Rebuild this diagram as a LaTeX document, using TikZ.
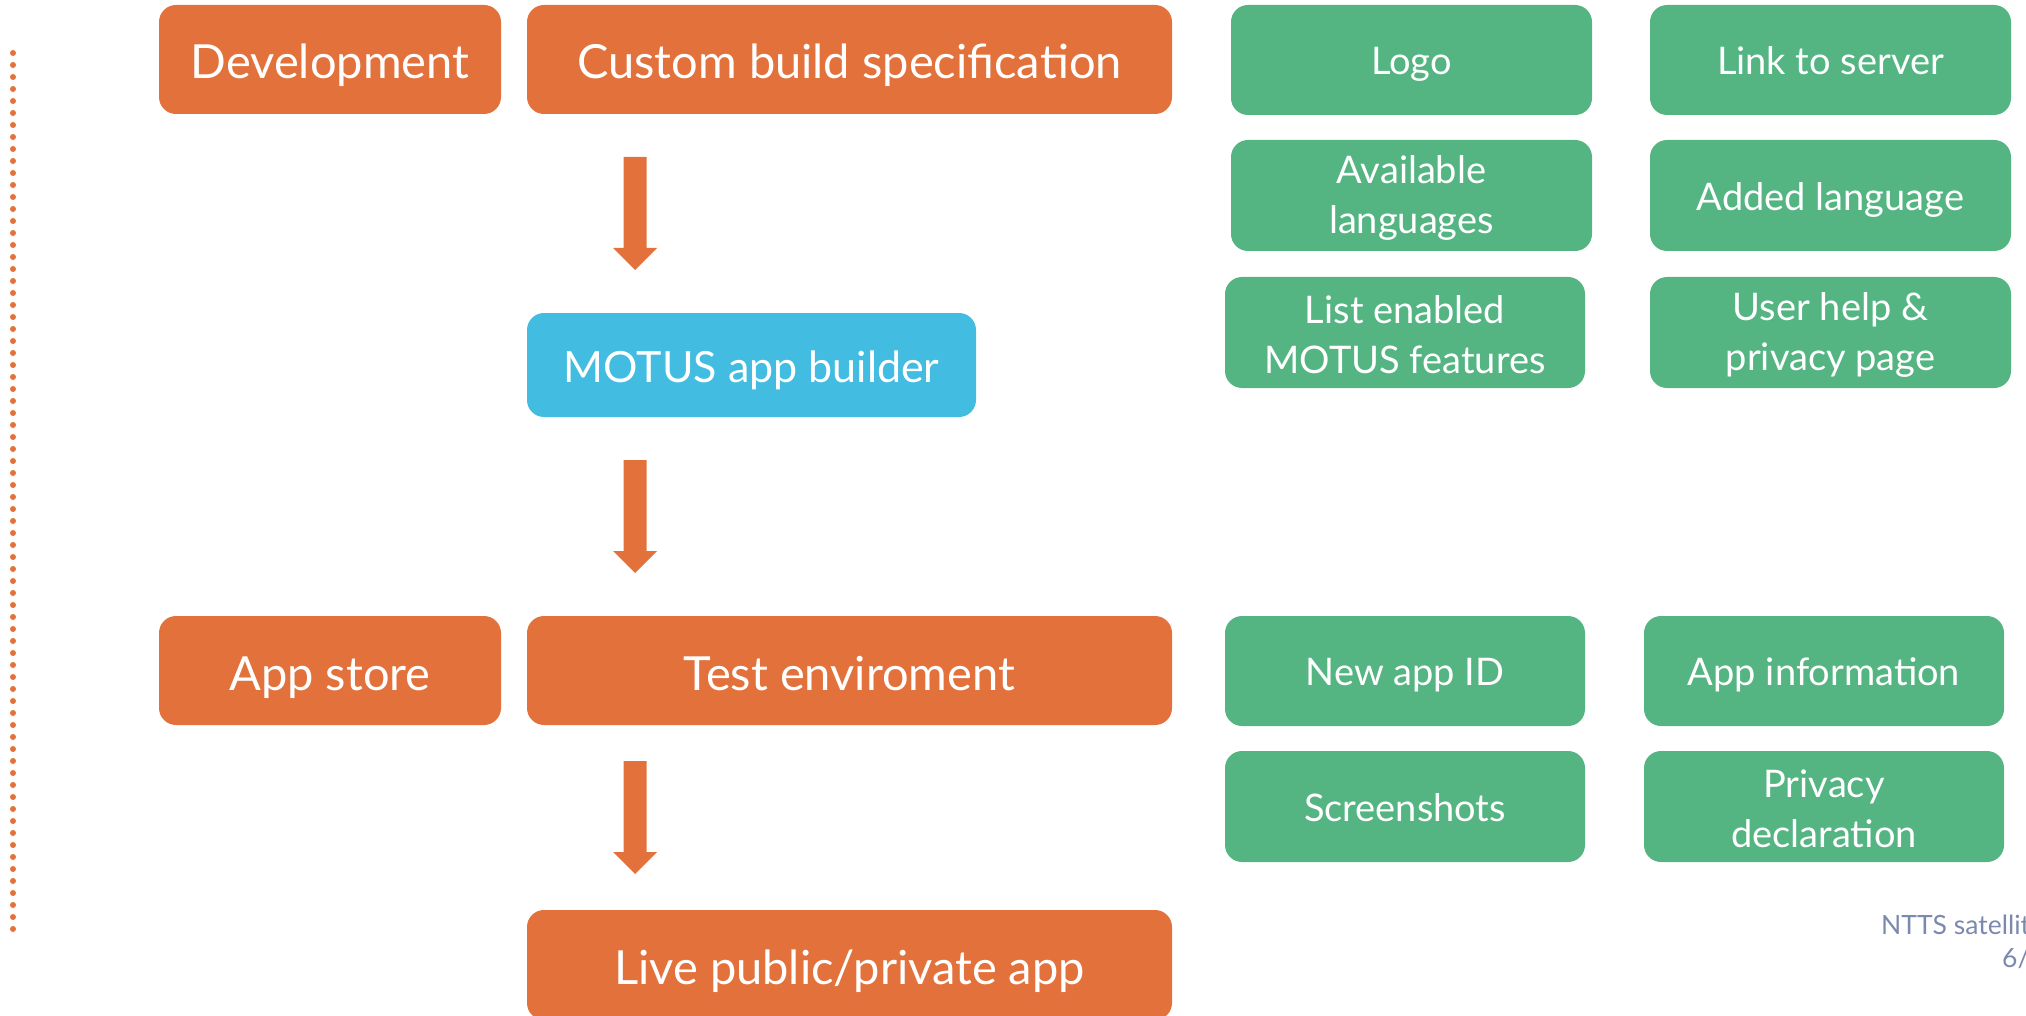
\documentclass[tikz,border=0pt]{standalone}
\usepackage{fontspec}
\setmainfont{Lato}
\definecolor{orng}{HTML}{E3713B}
\definecolor{grn}{HTML}{54B583}
\definecolor{blu}{HTML}{42BCE1}
\definecolor{foot}{HTML}{7A89AD}
\newcommand{\topstrut}{\rule{0pt}{33pt}}
\tikzset{
  box/.style={rounded corners=17pt, inner sep=0pt, text=white, align=center},
  obox/.style={box, fill=orng, minimum height=109pt, text height=39pt, text depth=0pt,
    font=\fontsize{47}{56}\selectfont},
  bbox/.style={box, fill=blu, minimum width=449pt, minimum height=104pt, text height=34pt,
    text depth=0pt, font=\fontsize{43}{52}\selectfont},
  gbox/.style={box, fill=grn, minimum width=361pt, minimum height=110pt,
    font=\fontsize{38}{50}\selectfont},
  gone/.style={gbox, text height=29.5pt, text depth=0pt},
  footer/.style={text=foot, inner sep=0pt, font=\fontsize{26.5}{32}\selectfont},
  downarrow/.pic={\fill[orng] (-11.5,0) -- (11.5,0) -- (11.5,91) -- (22,91) -- (0,113) -- (-22,91) -- (-11.5,91) -- cycle;}
}
\begin{document}
\begin{tikzpicture}[x=1pt, y=-1pt]
\useasboundingbox (0,0) rectangle (2026,1016);
% dotted left rule
\foreach \i in {0,...,73} \fill[orng] (13,53+12*\i) circle (3);
% left column
\node[obox, minimum width=342pt] (dev) at (330,59.5) {Development};
\node[obox, minimum width=645pt] (cbs) at (849.5,59.5) {Custom build specification};
\node[bbox] (motus) at (751.5,365) {MOTUS app builder};
\node[obox, minimum width=342pt] (store) at (330,670.5) {App store};
\node[obox, minimum width=645pt] (test) at (849.5,670.5) {Test enviroment};
\node[obox, minimum width=645pt, minimum height=110pt] (live) at (849.5,965) {Live public/private app};
% arrows
\pic at (635,157) {downarrow};
\pic at (635,460) {downarrow};
\pic at (635,761) {downarrow};
% green boxes top
\node[gone] (logo) at (1411.5,60) {Logo};
\node[gone] (link) at (1830.5,60) {Link to server};
\node[gbox, minimum height=111pt] (avail) at (1411.5,195.5) {\topstrut Available\\languages};
\node[gone, minimum height=111pt] (added) at (1830.5,195.5) {Added language};
\node[gbox, minimum width=360pt, minimum height=111pt] (list) at (1405,332.5) {\topstrut List enabled\\MOTUS features};
\node[gbox, minimum height=111pt] (help) at (1830.5,332.5) {\topstrut User help \&\\privacy page};
% green boxes bottom
\node[gone, minimum width=360pt] (newid) at (1405,671) {New app ID};
\node[gone, minimum width=360pt] (info) at (1824,671) {App information};
\node[gone, minimum width=360pt, minimum height=111pt] (shots) at (1405,806.5) {Screenshots};
\node[gbox, minimum width=360pt, minimum height=111pt] (priv) at (1824,806.5) {\topstrut Privacy\\declaration};
% footer
\node[footer, anchor=base west] (ft1) at (1881,934) {NTTS satellit};
\node[footer, anchor=base west] (ft2) at (2002,967) {6/};
\end{tikzpicture}
\end{document}
